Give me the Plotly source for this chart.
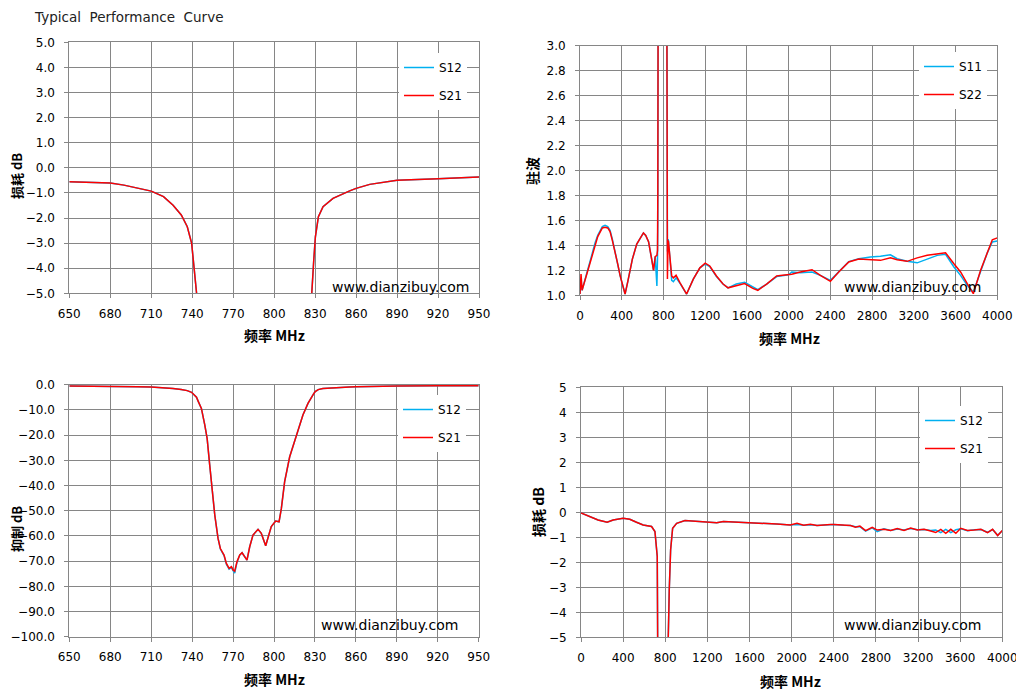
import plotly.graph_objects as go

# ---- 650-950 MHz, transmission (dB), used by the two left charts
f_nb = [650, 660, 670, 680, 690, 700, 710, 719, 726, 732, 736.4, 739.6, 741.5, 743.2,
        744.4, 746.8, 749.3, 751, 752.9, 754.6, 756.6, 759, 760.7, 763.4, 765.1, 767.1,
        768.8, 770, 771.2, 772.9, 774.9, 776.6, 778.5, 780.2, 782.2, 784.6, 788.3, 790.7,
        793.9, 795.6, 798, 801.2, 803.7, 805.4, 807.8, 811.5, 816.3, 821.2, 824.9, 827.3,
        829, 830.2, 832.4, 835.8, 843.1, 855.3, 860, 870, 880, 890, 920, 950]
s21_nb = [-0.56, -0.57, -0.58, -0.61, -0.69, -0.80, -0.93, -1.15, -1.49, -1.88, -2.35, -3.01,
          -3.94, -5.0, -6.5, -9.4, -16.0, -21.3, -31.9, -42.5, -51.7, -61.0, -65.0, -67.6,
          -70.9, -72.9, -72.2, -73.5, -74.0, -70.2, -67.6, -66.7, -68.3, -69.6, -64.3, -59.7,
          -57.4, -59.0, -63.9, -61.0, -56.3, -54.1, -54.4, -49.1, -38.5, -28.6, -20.0, -12.0,
          -7.4, -5.0, -3.68, -2.75, -1.95, -1.55, -1.22, -0.92, -0.82, -0.66, -0.57, -0.50,
          -0.44, -0.37]
s12_nb = [-0.56, -0.57, -0.58, -0.61, -0.69, -0.80, -0.93, -1.15, -1.49, -1.88, -2.35, -3.01,
          -3.94, -5.0, -6.5, -9.4, -16.0, -21.3, -31.9, -42.5, -51.7, -61.0, -65.2, -67.8,
          -71.2, -73.2, -72.5, -73.8, -74.8, -70.4, -67.6, -66.7, -68.3, -69.6, -64.3, -59.7,
          -57.4, -59.0, -63.9, -61.0, -56.3, -54.1, -54.4, -49.1, -38.5, -28.6, -20.0, -12.0,
          -7.4, -5.0, -3.68, -2.75, -1.95, -1.55, -1.22, -0.92, -0.82, -0.66, -0.57, -0.50,
          -0.44, -0.37]

# ---- 0-4000 MHz, VSWR
f_vswr = [0, 10, 20, 48, 80, 112, 144, 170, 214, 240, 266, 288, 310, 336, 362, 384, 406,
          432, 458, 480, 502, 544, 578, 608, 630, 657, 689, 705, 721, 737, 743, 746, 750,
          754, 790, 825, 832, 838, 844, 848, 857, 879, 895, 921, 959, 1022, 1086, 1149,
          1200, 1244, 1308, 1371, 1419, 1498, 1578, 1657, 1705, 1789, 1885, 1920, 2000,
          2030, 2112, 2224, 2304, 2400, 2480, 2576, 2672, 2784, 2880, 2976, 3040, 3136,
          3232, 3328, 3424, 3504, 3584, 3648, 3712, 3770, 3840, 3904, 3952, 4000]
s11_vswr = [1.01, 1.12, 1.04, 1.12, 1.23, 1.32, 1.42, 1.48, 1.55, 1.56, 1.55, 1.52, 1.45,
            1.34, 1.25, 1.16, 1.09, 1.01, 1.11, 1.19, 1.29, 1.41, 1.46, 1.50, 1.48, 1.43,
            1.28, 1.20, 1.31, 1.075, 1.30, 1.6, 4.0, 15.0, 30.0, 15.0, 4.0, 1.35, 1.45,
            1.44, 1.33, 1.12, 1.11, 1.14, 1.095, 1.01, 1.13, 1.22, 1.25, 1.23, 1.15, 1.09,
            1.06, 1.09, 1.104, 1.065, 1.045, 1.09, 1.15, 1.155, 1.165, 1.187, 1.18, 1.187,
            1.16, 1.12, 1.19, 1.27, 1.293, 1.307, 1.312, 1.325, 1.293, 1.272, 1.26, 1.293,
            1.32, 1.328, 1.227, 1.16, 1.08, 1.027, 1.19, 1.34, 1.427, 1.435]
s22_vswr = [1.01, 1.17, 1.04, 1.12, 1.23, 1.32, 1.41, 1.47, 1.54, 1.545, 1.54, 1.51, 1.44,
            1.33, 1.25, 1.16, 1.09, 1.01, 1.11, 1.19, 1.29, 1.41, 1.46, 1.50, 1.48, 1.43,
            1.28, 1.20, 1.31, 1.32, 1.36, 1.84, 4.0, 15.0, 30.0, 15.0, 3.5, 1.13, 1.44, 1.43,
            1.36, 1.155, 1.14, 1.16, 1.10, 1.01, 1.13, 1.22, 1.257, 1.235, 1.155, 1.09, 1.06,
            1.075, 1.094, 1.055, 1.04, 1.09, 1.155, 1.158, 1.165, 1.168, 1.187, 1.205, 1.16,
            1.112, 1.187, 1.267, 1.29, 1.285, 1.28, 1.30, 1.285, 1.272, 1.30, 1.32, 1.333,
            1.341, 1.253, 1.187, 1.093, 1.013, 1.2, 1.347, 1.445, 1.46]

# ---- 0-4000 MHz, transmission (dB)
f_il = [0, 83, 162, 248, 305, 400, 463, 527, 590, 670, 702, 724, 737, 746, 760, 790, 815,
        826, 838, 851, 870, 908, 987, 1067, 1162, 1225, 1289, 1352, 1479, 1606, 1733, 1860,
        1987, 2051, 2114, 2178, 2241, 2300, 2368, 2400, 2495, 2559, 2606, 2648, 2702, 2765,
        2813, 2876, 2940, 3003, 3067, 3130, 3194, 3257, 3321, 3368, 3416, 3463, 3511, 3559,
        3606, 3670, 3733, 3797, 3860, 3908, 3956, 4000]
s21_il = [-0.03, -0.17, -0.31, -0.40, -0.31, -0.24, -0.28, -0.40, -0.51, -0.57, -0.77, -1.77,
          -3.77, -5.5, -30.0, -60.0, -30.0, -5.5, -3.1, -1.5, -0.64, -0.44, -0.33, -0.35,
          -0.40, -0.41, -0.42, -0.37, -0.39, -0.41, -0.43, -0.47, -0.51, -0.44, -0.52, -0.48,
          -0.53, -0.50, -0.49, -0.49, -0.52, -0.53, -0.60, -0.55, -0.73, -0.60, -0.71, -0.68,
          -0.73, -0.65, -0.73, -0.63, -0.71, -0.68, -0.75, -0.81, -0.68, -0.84, -0.68, -0.84,
          -0.64, -0.73, -0.71, -0.68, -0.81, -0.68, -0.93, -0.73]
s12_il = [-0.03, -0.17, -0.31, -0.40, -0.31, -0.24, -0.28, -0.40, -0.51, -0.57, -0.77, -1.77,
          -3.77, -5.5, -30.0, -60.0, -30.0, -5.5, -3.1, -1.5, -0.64, -0.44, -0.33, -0.35,
          -0.40, -0.41, -0.42, -0.37, -0.39, -0.41, -0.43, -0.47, -0.51, -0.49, -0.52, -0.50,
          -0.53, -0.51, -0.49, -0.49, -0.52, -0.53, -0.58, -0.57, -0.75, -0.62, -0.77, -0.66,
          -0.73, -0.67, -0.71, -0.65, -0.70, -0.69, -0.73, -0.71, -0.81, -0.68, -0.81, -0.70,
          -0.66, -0.74, -0.70, -0.69, -0.80, -0.69, -0.92, -0.74]

BLUE = '#00B0F0'
RED = '#FF0000'
GRID = '#868686'
TICKFONT = dict(family='DejaVu Sans', size=12, color='black')

# the page body has an 8px margin, so the figure is drawn 8px in and 8px down
OFF = 8
W, H = 1024 - OFF, 693 - OFF


def px(x):
    return (x - OFF) / W


def py(y):
    return 1 - (y - OFF) / H


def axis(domain, rng, dtick, fmt, anchor, labelgap):
    return dict(domain=domain, range=rng, tick0=rng[0], dtick=dtick, tickformat=fmt,
                anchor=anchor, showgrid=True, gridcolor=GRID, gridwidth=1,
                showline=True, mirror=True, linecolor=GRID, linewidth=1,
                ticks='outside', ticklen=4, tickcolor=GRID, zeroline=False,
                automargin=False, tickfont=TICKFONT, ticklabelstandoff=labelgap)


def legend(left, top):
    return dict(x=px(left), y=py(top), xanchor='left', yanchor='top',
                bgcolor='white', borderwidth=0, tracegroupgap=9,
                font=TICKFONT, itemwidth=30)


fig = go.Figure()
panels = [
    ('x', 'y', 'legend', f_nb, s12_nb, s21_nb, 'S12', 'S21'),
    ('x2', 'y2', 'legend2', f_vswr, s11_vswr, s22_vswr, 'S11', 'S22'),
    ('x3', 'y3', 'legend3', f_nb, s12_nb, s21_nb, 'S12', 'S21'),
    ('x4', 'y4', 'legend4', f_il, s12_il, s21_il, 'S12', 'S21'),
]
for xa, ya, lg, f, a, b, na, nb in panels:
    fig.add_trace(go.Scatter(x=f, y=a, name=na, mode='lines', xaxis=xa, yaxis=ya,
                             legend=lg, legendgroup=lg + na,
                             line=dict(color=BLUE, width=1.5)))
    fig.add_trace(go.Scatter(x=f, y=b, name=nb, mode='lines', xaxis=xa, yaxis=ya,
                             legend=lg, legendgroup=lg + nb,
                             line=dict(color=RED, width=1.5)))

fig.update_layout(
    width=W, height=H, template='none',
    paper_bgcolor='white', plot_bgcolor='white',
    margin=dict(l=0, r=0, t=0, b=0),
    font=TICKFONT,
    xaxis=axis([px(69.3), px(479)], [650, 950], 30, 'd', 'y', 5),
    yaxis=axis([py(293.3), py(42.3)], [-5, 5], 1, '.1f', 'x', 7),
    xaxis2=axis([px(580), px(997.3)], [0, 4000], 400, 'd', 'y2', 5),
    yaxis2=axis([py(295.3), py(45.7)], [1, 3], 0.2, '.1f', 'x2', 7),
    xaxis3=axis([px(69.3), px(478.7)], [650, 950], 30, 'd', 'y3', 5),
    yaxis3=axis([py(636.7), py(384.7)], [-100, 0], 10, '.1f', 'x3', 7),
    xaxis4=axis([px(581), px(1002.3)], [0, 4000], 400, 'd', 'y4', 5),
    yaxis4=axis([py(637.3), py(387.3)], [-5, 5], 1, 'd', 'x4', 7),
    legend=legend(399, 53),
    legend2=legend(919, 52),
    legend3=legend(398, 395),
    legend4=legend(920, 406),
)

# axis titles: (text, x, y, angle, size)
axis_titles = [
    ('频率 MHz', 274, 335, 0, 14), ('损耗 dB', 16, 176, -90, 13),
    ('频率 MHz', 789, 338, 0, 14), ('驻波', 532, 171, -90, 14),
    ('频率 MHz', 274, 679, 0, 14), ('抑制 dB', 16, 529, -90, 13),
    ('频率 MHz', 790, 681, 0, 14), ('损耗 dB', 538, 512, -90, 14),
]
for txt, tx, ty, ang, sz in axis_titles:
    fig.add_annotation(text=txt, xref='paper', yref='paper', x=px(tx), y=py(ty),
                       xanchor='center', yanchor='middle', textangle=ang, borderpad=0,
                       showarrow=False,
                       font=dict(family='Noto Sans CJK SC', size=sz, color='black', weight='bold'))

fig.add_annotation(text='Typical\u00a0\u00a0Performance\u00a0\u00a0Curve', xref='paper', yref='paper',
                   x=px(33), y=1, xanchor='left', yanchor='top', borderpad=0,
                   showarrow=False, font=dict(family='DejaVu Sans', size=13.5, color='#222222'))

marks = [(332, 287), (844, 287), (321, 625), (844, 625)]
for mx, my in marks:
    fig.add_annotation(text='www.dianzibuy.com', xref='paper', yref='paper',
                       x=px(mx), y=py(my), xanchor='left', yanchor='middle',
                       showarrow=False, xshift=-2,
                       font=dict(family='DejaVu Sans', size=14, color='black'))

fig.write_html('out.html')
